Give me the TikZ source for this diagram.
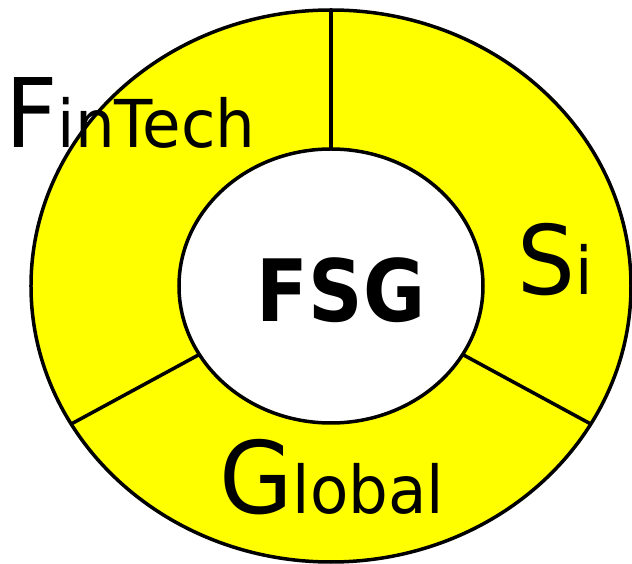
\documentclass[tikz,border=0pt]{standalone}
\usepackage{fontspec}
\setmainfont{DejaVu Sans}[FakeStretch=0.95]
\newfontfamily\fsgfont{DejaVu Sans Bold}[FakeStretch=0.88]
\definecolor{ringyellow}{RGB}{255,255,0}
\newcommand{\bigletter}{\fontsize{96}{96}\selectfont}
\newcommand{\smallletters}{\fontsize{66}{66}\selectfont}

\begin{document}
\begin{tikzpicture}[x=1pt, y=1pt,
    ring/.style={draw=black, line width=3.5pt},
    lbl/.style={inner sep=0pt, anchor=base west}]
  \useasboundingbox (-331,-278) rectangle (301,286);
  % yellow ring
  \fill[ringyellow, even odd rule] (0,0) ellipse [x radius=300, y radius=276]
                                   (0,0) ellipse [x radius=152, y radius=137];
  \draw[ring] (0,0) ellipse [x radius=300, y radius=276];
  \draw[ring] (0,0) ellipse [x radius=152, y radius=137];
  \foreach \a in {90,210,330} {
    \coordinate (in\a) at ({152*cos(\a)},{137*sin(\a)});
    \coordinate (out\a) at ({300*cos(\a)},{276*sin(\a)});
    \draw[ring] (in\a) -- (out\a);
  }
  % labels
  \node[lbl] (fintech) at (-326,138) {\bigletter F\smallletters inTech};
  \node[lbl] (si) at (186,-9) {\bigletter S\smallletters i};
  \node[lbl] (global) at (-112,-228) {{\fontsize{100}{100}\selectfont G}\smallletters lobal};
  \node[inner sep=0pt, anchor=base] (fsg) at (10,-36) {\fontsize{86}{86}\fsgfont FSG};
\end{tikzpicture}
\end{document}
